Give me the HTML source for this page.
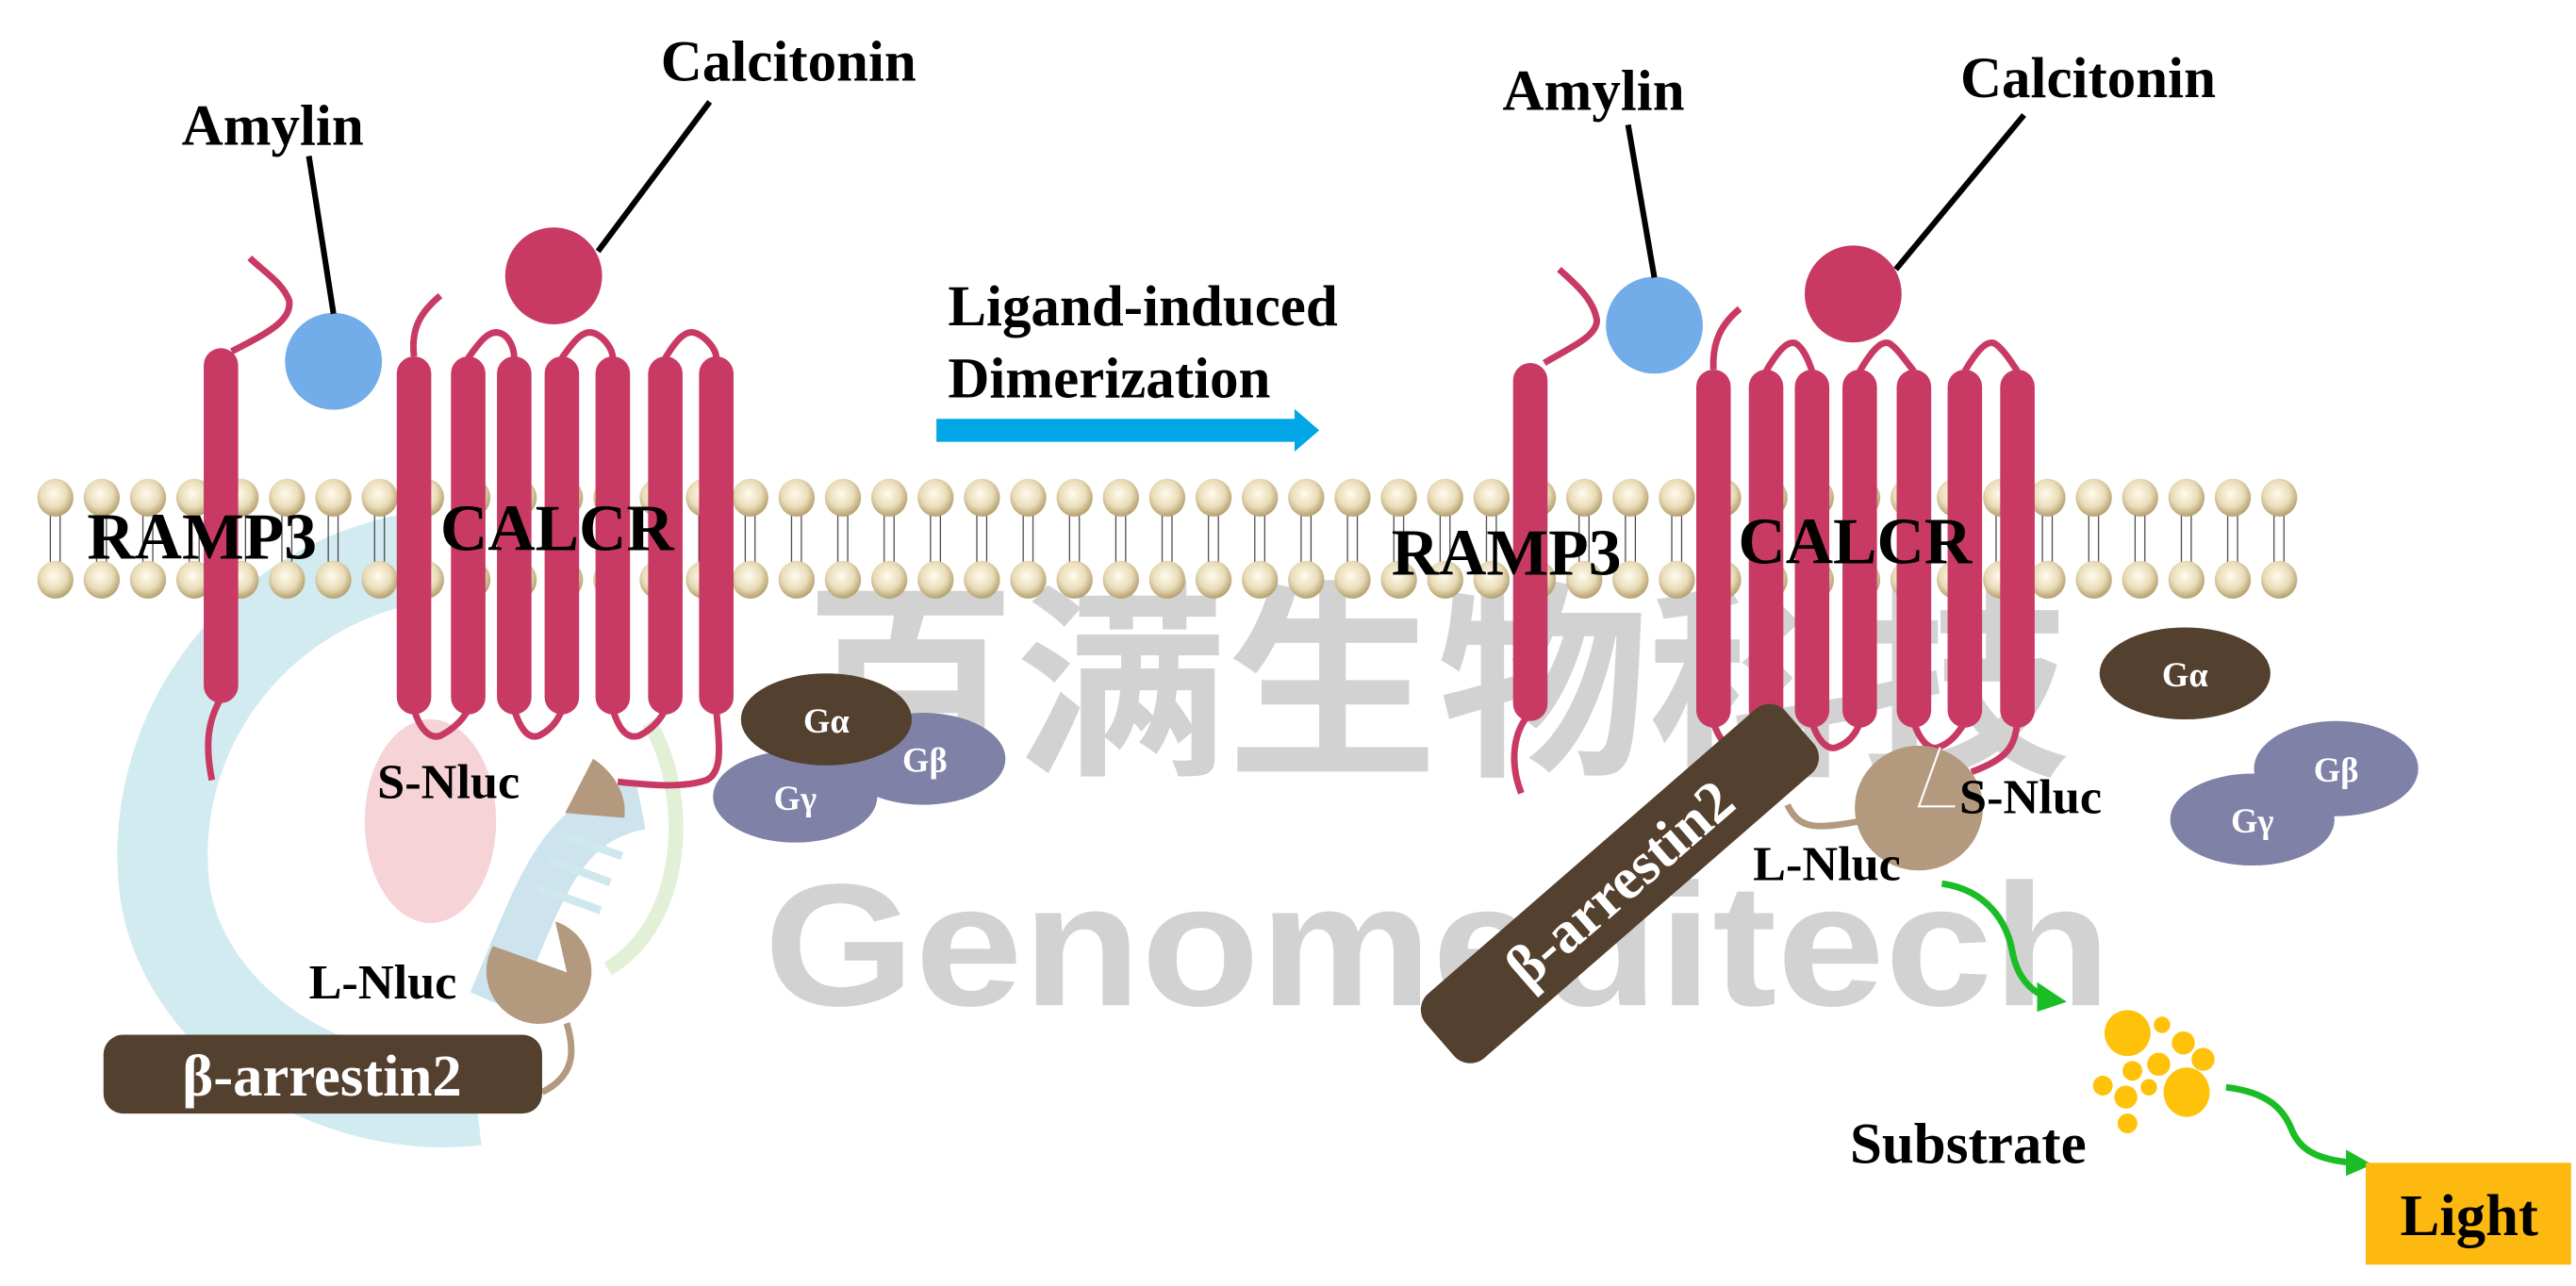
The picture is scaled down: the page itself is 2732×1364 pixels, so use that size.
<!DOCTYPE html>
<html><head><meta charset="utf-8"><style>
html,body{margin:0;padding:0;background:#fff;}
svg{display:block;}
text{font-family:"Liberation Serif",serif;font-weight:bold;}
</style></head><body>
<svg width="2732" height="1364" viewBox="0 0 1568 783" preserveAspectRatio="none" xmlns="http://www.w3.org/2000/svg">
<defs>
<radialGradient id="bead" cx="45%" cy="40%" r="60%">
<stop offset="0" stop-color="#fffbee"/><stop offset="0.6" stop-color="#e9dcb8"/><stop offset="1" stop-color="#b39f6e"/>
</radialGradient>
<pattern id="mem" patternUnits="userSpaceOnUse" x="19.6" y="290" width="28.2" height="80">
<line x1="11" y1="23" x2="11" y2="53" stroke="#222" stroke-width="0.6"/>
<line x1="17" y1="23" x2="17" y2="53" stroke="#222" stroke-width="0.6"/>
<ellipse cx="14.1" cy="13" rx="11" ry="11.5" fill="url(#bead)"/>
<ellipse cx="14.1" cy="63" rx="11" ry="11.5" fill="url(#bead)"/>
</pattern>
</defs>

<!-- watermark logo -->
<path d="M250,340 C150,360 90,450 100,540 C110,620 200,680 290,670" fill="none" stroke="#cde9f0" stroke-width="55" opacity="0.9"/>
<path d="M300,610 C330,540 340,500 390,490" fill="none" stroke="#cde3ee" stroke-width="30"/>
<ellipse cx="262" cy="500" rx="40" ry="62" fill="#f6d3d6"/>
<path d="M395,440 C420,480 420,560 370,590" fill="none" stroke="#e2f0d8" stroke-width="9"/>
<g fill="#cfe8ee"><rect x="340" y="512" width="40" height="5" transform="rotate(20 360 514)"/><rect x="333" y="528" width="40" height="5" transform="rotate(20 353 530)"/><rect x="327" y="545" width="40" height="5" transform="rotate(20 347 547)"/></g>

<!-- watermark text -->
<text x="875" y="462" text-anchor="middle" font-size="128" fill="#d2d2d2" style="font-family:'Liberation Sans','Noto Sans CJK SC',sans-serif;font-weight:bold" textLength="770" lengthAdjust="spacingAndGlyphs">百满生物科技</text>
<text x="875" y="612" text-anchor="middle" font-size="106" fill="#d2d2d2" style="font-family:'Liberation Sans',sans-serif;font-weight:bold" textLength="820" lengthAdjust="spacingAndGlyphs">Genomeditech</text>

<!-- membrane -->
<rect x="19.6" y="290" width="1382" height="80" fill="url(#mem)"/>

<!-- LEFT receptor -->
<g stroke="#c83a64" fill="none" stroke-width="4">
<path d="M141,214 C160,204 178,196 176,183 C172,172 160,165 152,157"/>
<path d="M134,426 C126,440 125,455 129,475"/>
<path d="M252,217 C250,200 256,190 268,180"/>
<path d="M285,218 C292,208 298,200 305,203 C310,205 313,212 313,218"/>
<path d="M342,218 C349,208 355,200 362,203 C367,205 373,212 373,218"/>
<path d="M405,218 C411,208 417,200 424,203 C429,205 436,212 436,218"/>
<path d="M252,432 C256,445 262,450 268,448 C276,444 282,438 285,432"/>
<path d="M313,432 C317,445 322,450 328,448 C336,444 340,438 342,432"/>
<path d="M373,432 C377,445 382,450 389,448 C397,444 402,438 405,432"/>
<path d="M436,432 C438,455 440,470 430,475 C415,480 395,478 376,476"/>
</g>
<g fill="#c83a64">
<rect x="124" y="212" width="21" height="216" rx="10.5"/>
<rect x="241.5" y="217" width="21" height="218" rx="10.5"/>
<rect x="274.5" y="217" width="21" height="218" rx="10.5"/>
<rect x="302.5" y="217" width="21" height="218" rx="10.5"/>
<rect x="331.5" y="217" width="21" height="218" rx="10.5"/>
<rect x="362.5" y="217" width="21" height="218" rx="10.5"/>
<rect x="394.5" y="217" width="21" height="218" rx="10.5"/>
<rect x="425.5" y="217" width="21" height="218" rx="10.5"/>
<circle cx="337" cy="168" r="29.5"/>
</g>
<circle cx="203" cy="220" r="29.5" fill="#72adea"/>
<line x1="203" y1="191" x2="188" y2="95" stroke="#000" stroke-width="3.5"/>
<line x1="364" y1="153" x2="432" y2="62" stroke="#000" stroke-width="3.5"/>
<text x="166" y="88" text-anchor="middle" font-size="35" fill="#000">Amylin</text>
<text x="480" y="49" text-anchor="middle" font-size="35" fill="#000">Calcitonin</text>

<!-- S-Nluc wedge left -->
<path d="M361,462 L344,495 L380,498 C382,485 374,470 361,462 Z" fill="#b39a7f"/>
<text x="273" y="486" text-anchor="middle" font-size="30" fill="#000">S-Nluc</text>
<!-- L-Nluc pacman -->
<path d="M345,592 L300,576 A32,32 0 1 0 338,561 Z" fill="#b39a7f"/>
<path d="M345,623 C350,640 350,655 330,665" fill="none" stroke="#b39a7f" stroke-width="4"/>
<text x="233" y="608" text-anchor="middle" font-size="30" fill="#000">L-Nluc</text>
<rect x="63" y="630" width="267" height="48" rx="12" fill="#53402f"/>
<text x="196" y="667" text-anchor="middle" font-size="36" fill="#fff">β-arrestin2</text>

<!-- G proteins left -->
<ellipse cx="562" cy="462" rx="50" ry="28" fill="#7f81a6"/>
<ellipse cx="484" cy="485" rx="50" ry="28" fill="#7f81a6"/>
<ellipse cx="503" cy="438" rx="52" ry="28" fill="#53402f"/>
<text x="503" y="446" text-anchor="middle" font-size="21" fill="#fff">Gα</text>
<text x="563" y="470" text-anchor="middle" font-size="21" fill="#fff">Gβ</text>
<text x="484" y="493" text-anchor="middle" font-size="21" fill="#fff">Gγ</text>

<!-- middle arrow -->
<text x="577" y="198" font-size="35" fill="#000">Ligand-induced</text>
<text x="577" y="242" font-size="35" fill="#000">Dimerization</text>
<path d="M570,255 L788,255 L788,249 L803,262 L788,275 L788,269 L570,269 Z" fill="#00a6e6"/>

<!-- RIGHT receptor -->
<g stroke="#c83a64" fill="none" stroke-width="4">
<path d="M940,221 C955,212 972,205 972,195 C970,182 958,172 949,164"/>
<path d="M929,437 C921,448 919,465 926,483"/>
<path d="M1043,225 C1042,208 1048,197 1059,188"/>
<path d="M1075,226 C1082,214 1088,207 1093,209 C1098,212 1101,220 1103,226"/>
<path d="M1132,226 C1139,214 1145,207 1150,209 C1155,212 1160,220 1165,226"/>
<path d="M1196,226 C1203,214 1209,207 1214,209 C1219,212 1224,220 1228,226"/>
<path d="M1043,440 C1047,452 1053,457 1058,455 C1066,452 1071,446 1075,440"/>
<path d="M1103,440 C1107,452 1113,457 1118,455 C1126,452 1130,446 1132,440"/>
<path d="M1165,440 C1169,452 1175,457 1180,455 C1188,452 1192,446 1196,440"/>
<path d="M1228,440 C1226,455 1222,462 1200,470"/>
</g>
<g fill="#c83a64">
<rect x="921" y="221" width="21" height="218" rx="10.5"/>
<rect x="1032.5" y="225" width="21" height="218" rx="10.5"/>
<rect x="1064.5" y="225" width="21" height="218" rx="10.5"/>
<rect x="1092.5" y="225" width="21" height="218" rx="10.5"/>
<rect x="1121.5" y="225" width="21" height="218" rx="10.5"/>
<rect x="1154.5" y="225" width="21" height="218" rx="10.5"/>
<rect x="1185.5" y="225" width="21" height="218" rx="10.5"/>
<rect x="1217.5" y="225" width="21" height="218" rx="10.5"/>
<circle cx="1128" cy="179" r="29.5"/>
</g>
<circle cx="1007" cy="198" r="29.5" fill="#72adea"/>
<line x1="1007" y1="169" x2="991" y2="76" stroke="#000" stroke-width="3.5"/>
<line x1="1154" y1="164" x2="1232" y2="70" stroke="#000" stroke-width="3.5"/>
<text x="970" y="67" text-anchor="middle" font-size="35" fill="#000">Amylin</text>
<text x="1271" y="59" text-anchor="middle" font-size="35" fill="#000">Calcitonin</text>

<!-- membrane labels (on top of helices) -->
<text x="53" y="340" font-size="40" fill="#000">RAMP3</text>
<text x="268" y="335" font-size="40" fill="#000">CALCR</text>
<text x="847" y="350" font-size="40" fill="#000">RAMP3</text>
<text x="1058" y="343" font-size="40" fill="#000">CALCR</text>

<!-- β-arrestin2 right -->
<g transform="translate(986,538) rotate(-41)">
<rect x="-145" y="-26" width="290" height="52" rx="13" fill="#53402f"/>
<text x="0" y="12" text-anchor="middle" font-size="36" fill="#fff">β-arrestin2</text>
</g>
<path d="M1088,490 C1095,505 1105,505 1132,500" fill="none" stroke="#b39a7f" stroke-width="4"/>
<ellipse cx="1168" cy="492" rx="39" ry="38" fill="#b39a7f"/>
<path d="M1181,455 L1168,491 L1190,491" fill="none" stroke="#fff" stroke-width="1.2"/>
<text x="1236" y="495" text-anchor="middle" font-size="30" fill="#000">S-Nluc</text>
<text x="1112" y="536" text-anchor="middle" font-size="30" fill="#000">L-Nluc</text>

<!-- G proteins right -->
<ellipse cx="1422" cy="468" rx="50" ry="29" fill="#7f81a6"/>
<ellipse cx="1371" cy="499" rx="50" ry="28" fill="#7f81a6"/>
<ellipse cx="1330" cy="410" rx="52" ry="28" fill="#53402f"/>
<text x="1330" y="418" text-anchor="middle" font-size="21" fill="#fff">Gα</text>
<text x="1422" y="476" text-anchor="middle" font-size="21" fill="#fff">Gβ</text>
<text x="1371" y="507" text-anchor="middle" font-size="21" fill="#fff">Gγ</text>

<!-- green arrows -->
<path d="M1182,538 C1210,542 1222,562 1225,580 C1228,595 1236,603 1245,607" fill="none" stroke="#1bbd27" stroke-width="4"/>
<path d="M1240,598 L1258,610 L1240,616 Z" fill="#1bbd27"/>
<path d="M1355,662 C1380,665 1390,675 1395,688 C1400,700 1410,706 1432,708" fill="none" stroke="#1bbd27" stroke-width="4"/>
<path d="M1428,700 L1444,709 L1428,716 Z" fill="#1bbd27"/>

<!-- substrate -->
<g fill="#fec20a">
<ellipse cx="1295" cy="629" rx="14" ry="14"/>
<circle cx="1316" cy="624" r="5"/>
<circle cx="1329" cy="635" r="7"/>
<circle cx="1341" cy="645" r="7"/>
<circle cx="1314" cy="648" r="7"/>
<circle cx="1298" cy="652" r="6"/>
<circle cx="1280" cy="661" r="6"/>
<circle cx="1294" cy="668" r="7"/>
<circle cx="1308" cy="662" r="5"/>
<ellipse cx="1331" cy="665" rx="14" ry="15"/>
<circle cx="1295" cy="684" r="6"/>
</g>
<text x="1198" y="708" text-anchor="middle" font-size="35" fill="#000">Substrate</text>
<rect x="1440" y="708" width="125" height="62" fill="#fdb90f"/>
<text x="1503" y="752" text-anchor="middle" font-size="36" fill="#000">Light</text>
</svg>
</body></html>
